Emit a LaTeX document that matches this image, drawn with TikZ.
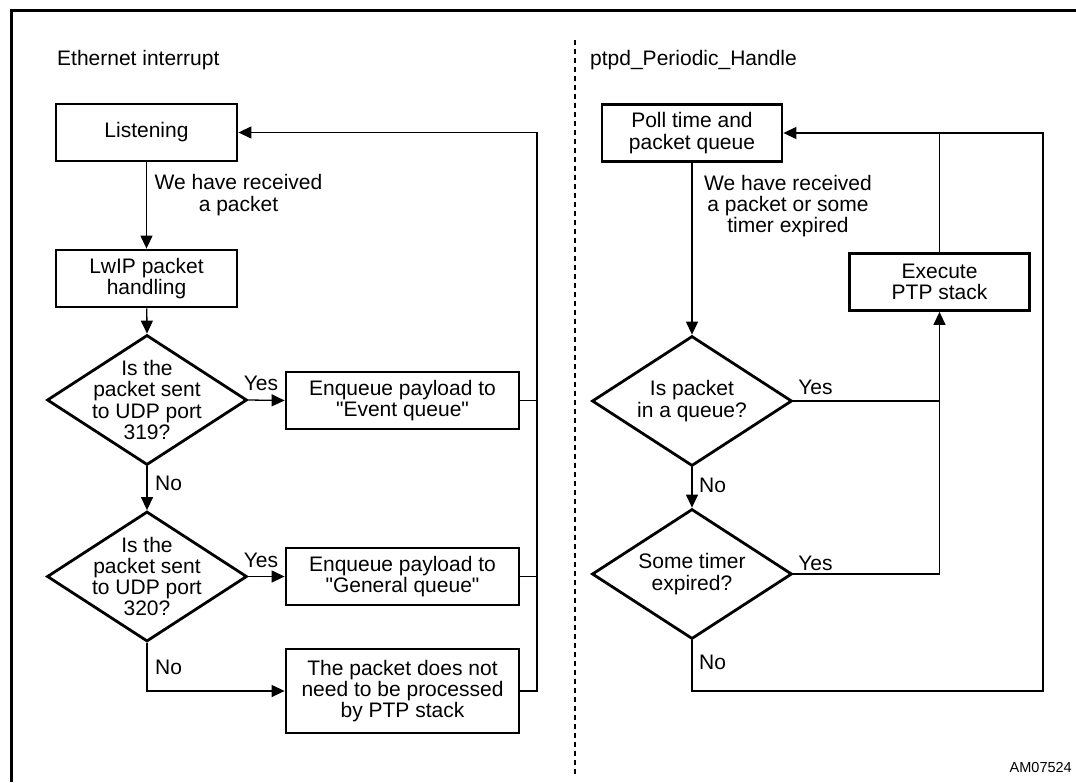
\documentclass[tikz,border=0pt]{standalone}
\usepackage{fontspec}
\setmainfont{Liberation Sans}[Ligatures=TeXOff]
\usetikzlibrary{shapes.geometric,arrows.meta}

\tikzset{
  txt/.style={font=\fontsize{21}{21.3}\selectfont, align=center, inner sep=0pt},
  box/.style={draw, line width=2.8pt, rectangle, minimum height=57pt, inner sep=0pt},
  narrowbox/.style={box, minimum width=181pt},
  widebox/.style={box, minimum width=233pt},
  decision/.style={draw, line width=2.8pt, diamond, minimum width=200pt, minimum height=130pt, inner sep=0pt},
  link/.style={line width=1.3pt},
  arrowlink/.style={link, -{Triangle[length=13pt,width=12pt]}},
  lbl/.style={font=\fontsize{21}{21.3}\selectfont, inner sep=0pt},
}

\begin{document}
\begin{tikzpicture}[x=1pt,y=-1pt]
\useasboundingbox (0,0) rectangle (1076,782);

% open frame (top and left edges)
\draw[line width=3pt] (1076,10) -- (11,10) -- (11,782);

% column separator
\draw[line width=1.2pt, dash pattern=on 5pt off 4pt] (575,40) -- (575,776);

% column headings
\node[lbl, anchor=west] (hdleft) at (57,60) {Ethernet interrupt};
\node[lbl, anchor=west] (hdright) at (590,60) {ptpd\_Periodic\_Handle};

% ---------------- Ethernet interrupt ----------------
\node[narrowbox, txt] (listen) at (146.5,132.5) {Listening};
\node[narrowbox, txt] (lwip) at (146.5,278.5) {LwIP packet\\handling};
\node[decision] (d1) at (147,400) {};
\node[txt] (d1t) at (d1) {Is the\\packet sent\\to UDP port\\319?};
\node[widebox, txt] (event) at (402.5,400.5) {Enqueue payload to\\"Event queue"};
\node[decision] (d2) at (147,576.5) {};
\node[txt] (d2t) at (d2) {Is the\\packet sent\\to UDP port\\320?};
\node[widebox, txt] (general) at (402.5,576.5) {Enqueue payload to\\"General queue"};
\node[widebox, txt, minimum height=84pt] (notneed) at (402.5,691) {The packet does not\\need to be processed\\by PTP stack};

\coordinate (rl) at (537,132.5);

\draw[arrowlink] (listen) -- (lwip);
\draw[arrowlink] (lwip) -- (d1.north);
\draw[arrowlink] (d1.east) -- (event.west);
\draw[arrowlink] (d1.south) -- (d2.north);
\draw[arrowlink] (d2.east) -- (general.west);
\draw[arrowlink] (d2.south) |- (notneed.west);
\draw[link] (event.east) -- (event.east -| rl);
\draw[link] (general.east) -- (general.east -| rl);
\draw[arrowlink] (notneed.east) -| (rl) -- (listen.east);

\node[txt] (lrecv) at (238.5,195) {We have received\\a packet};
\node[lbl] (y1) at (261,383) {Yes};
\node[lbl] (y2) at (261,560) {Yes};
\node[lbl, anchor=west] (n1) at (155,483) {No};
\node[lbl, anchor=west] (n2) at (155,667) {No};

% ---------------- ptpd_Periodic_Handle ----------------
\node[narrowbox, txt, minimum width=180pt] (poll) at (692,133) {Poll time and\\packet queue};
\node[narrowbox, txt, minimum width=180pt] (exec) at (939.5,282) {Execute\\PTP stack};
\node[decision] (d3) at (692,401) {};
\node[txt] (d3t) at (d3) {Is packet\\in a queue?};
\node[decision] (d4) at (692,574) {};
\node[txt] (d4t) at (d4) {Some timer\\expired?};

\coordinate (rb) at (1043,691);

\draw[arrowlink] (poll) -- (d3.north);
\draw[arrowlink] (d3.south) -- (d4.north);
\draw[arrowlink] (d4.east) -| (exec.south);
\draw[link] (d3.east) -- (d3.east -| exec.south);
\draw[link] (exec.north) -- (exec.north |- poll.east);
\draw[arrowlink] (d4.south) |- (rb) -- (rb |- poll.east) -- (poll.east);

\node[txt] (rrecv) at (788,206) {We have received\\a packet or some\\timer expired};
\node[lbl] (y3) at (815.5,387) {Yes};
\node[lbl] (y4) at (815.5,563) {Yes};
\node[lbl, anchor=west] (n3) at (699,485) {No};
\node[lbl, anchor=west] (n4) at (699,662) {No};

% figure reference code
\node[font=\fontsize{14.5}{16}\selectfont, anchor=east, inner sep=0pt] (code) at (1072,767) {AM07524};
\end{tikzpicture}
\end{document}
